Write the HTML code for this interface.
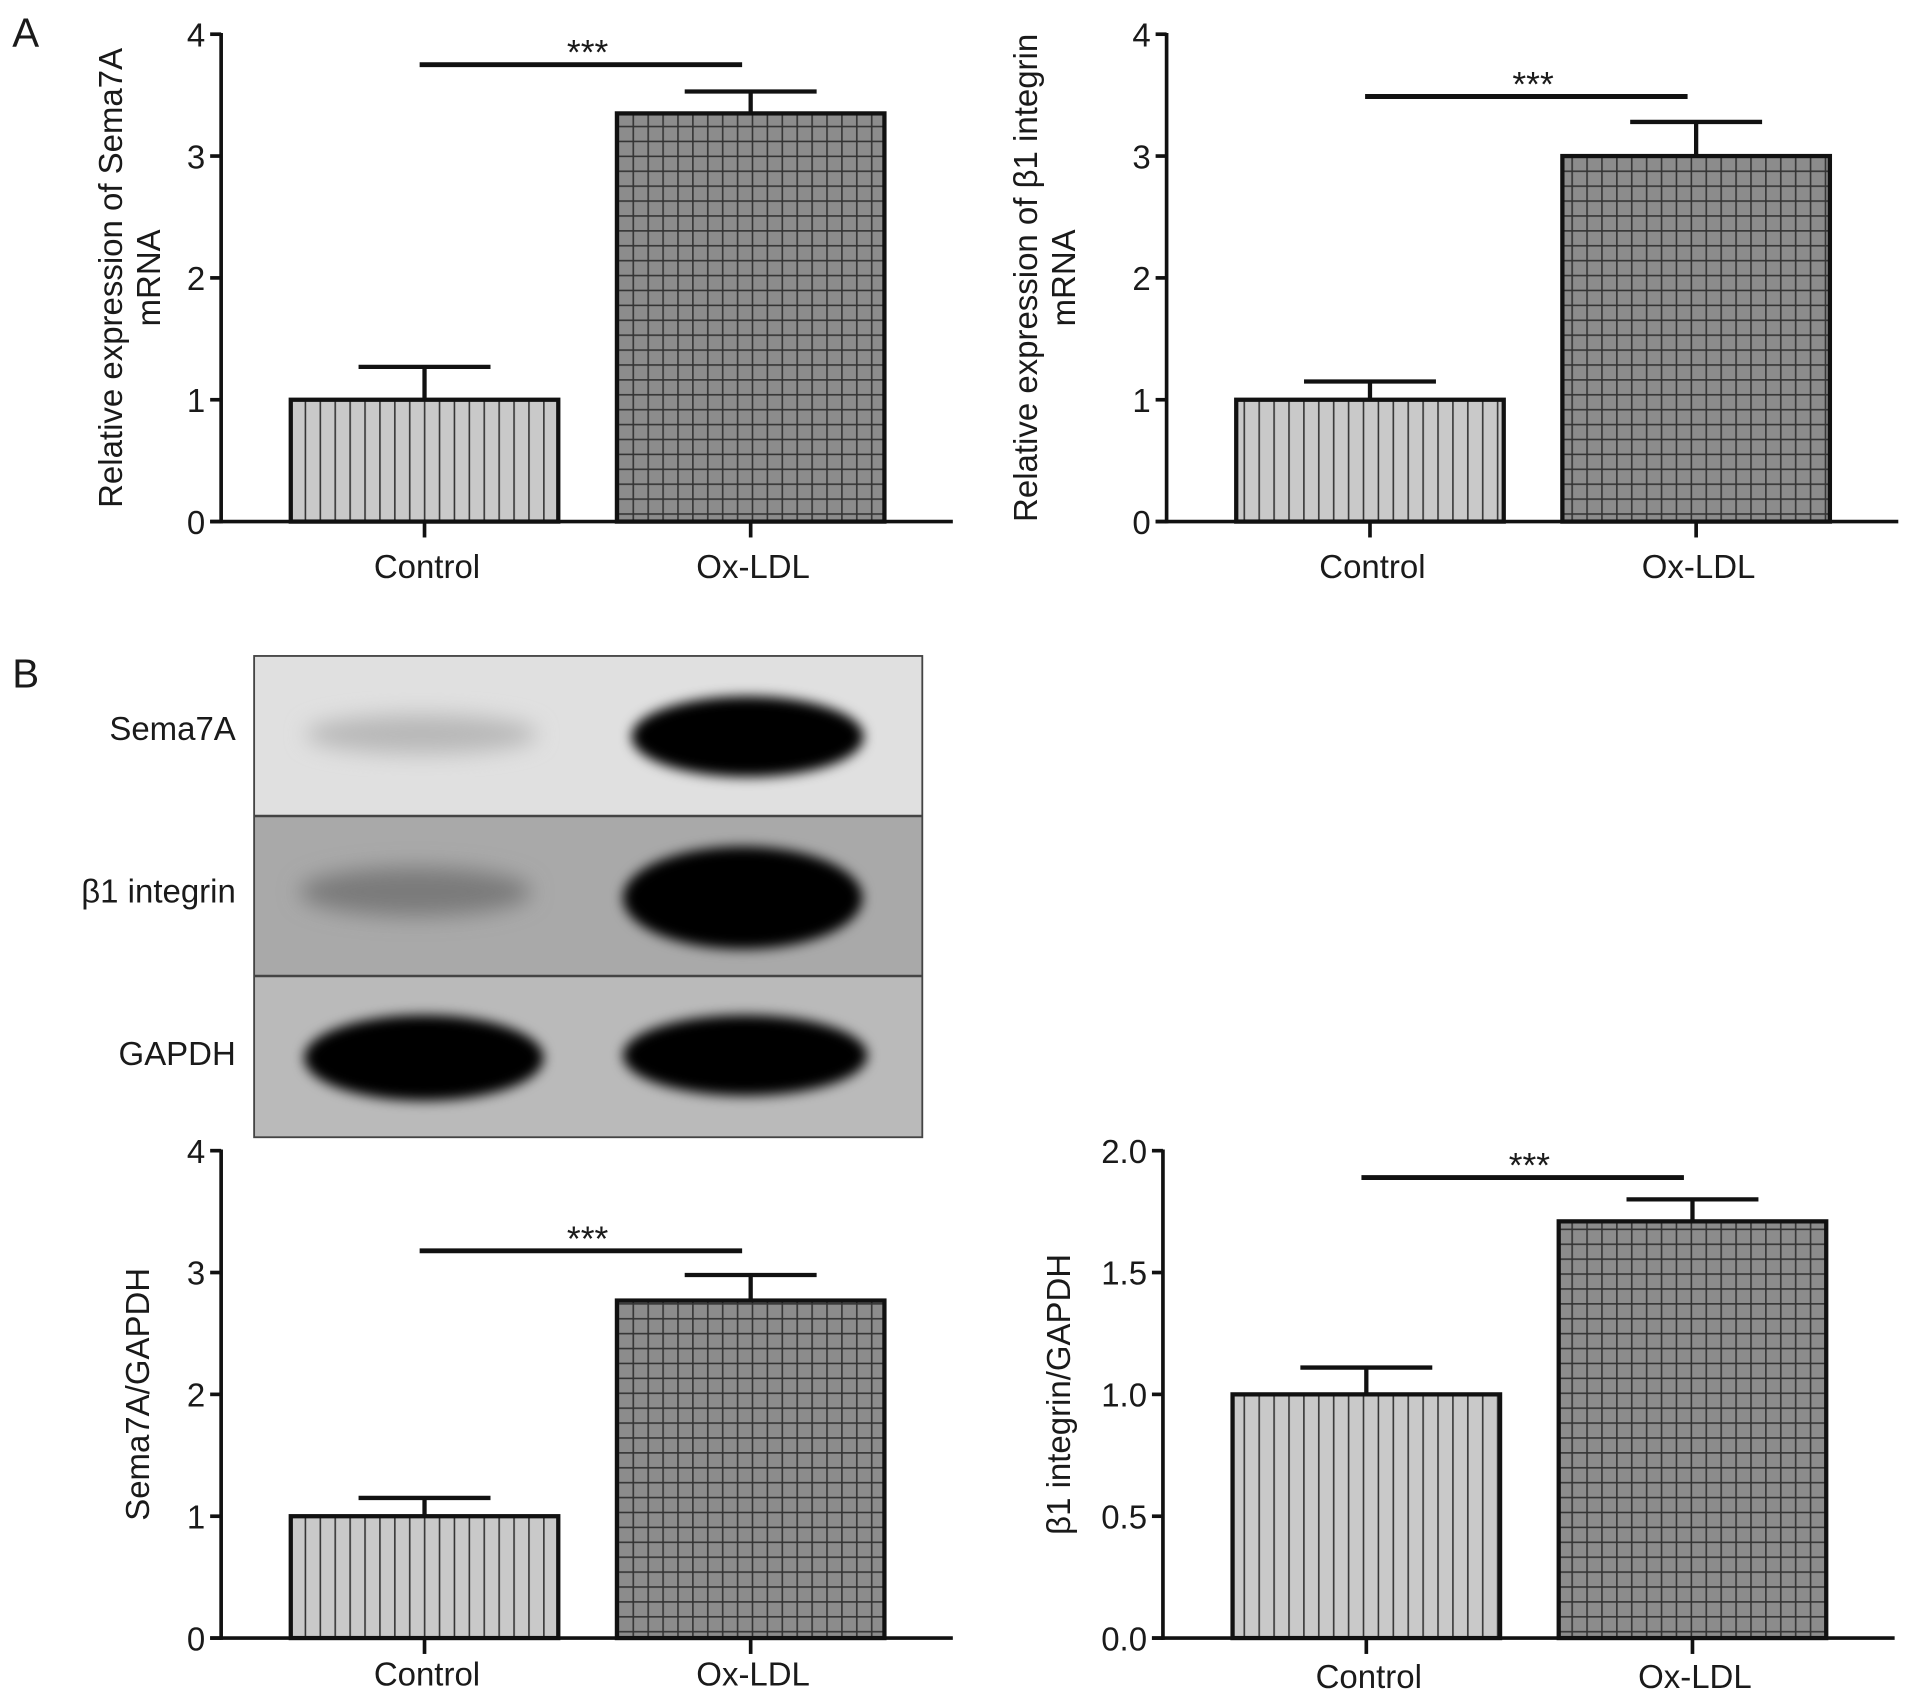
<!DOCTYPE html>
<html><head><meta charset="utf-8"><style>
html,body{margin:0;padding:0;background:#fff}
svg{display:block}
text{font-family:"Liberation Sans",Arial,sans-serif;fill:#1a1a1a}
</style></head><body>
<svg id="fig" width="1913" height="1700" viewBox="0 0 1566 1391.7" xmlns="http://www.w3.org/2000/svg">
<defs>
<pattern id="vstripe" width="12.2" height="20" patternUnits="userSpaceOnUse">
<rect width="12.2" height="20" fill="#c9c9c9"/><line x1="6" y1="0" x2="6" y2="20" stroke="#333" stroke-width="1.3"/>
</pattern>
<pattern id="grid" width="12.2" height="12.2" patternUnits="userSpaceOnUse">
<rect width="12.2" height="12.2" fill="#8c8c8c"/><line x1="6" y1="0" x2="6" y2="12.2" stroke="#333" stroke-width="1.3"/><line x1="0" y1="6" x2="12.2" y2="6" stroke="#333" stroke-width="1.3"/>
</pattern>
<filter id="blur" x="-30%" y="-60%" width="160%" height="220%"><feGaussianBlur stdDeviation="9"/></filter>
<filter id="blur2" x="-30%" y="-60%" width="160%" height="220%"><feGaussianBlur stdDeviation="5"/></filter>
</defs>
<text x="10" y="38" font-size="33">A</text>
<text x="10" y="563" font-size="33">B</text>
<g id="blot">
<rect x="208" y="537" width="547" height="131" fill="#e0e0e0"/>
<rect x="208" y="668" width="547" height="131" fill="#a9a9a9"/>
<rect x="208" y="799" width="547" height="132" fill="#bababa"/>
<ellipse cx="345" cy="601" rx="95" ry="16" fill="#b8b8b8" filter="url(#blur)"/>
<ellipse cx="612" cy="603" rx="95" ry="33" fill="#000" filter="url(#blur2)"/>
<ellipse cx="340" cy="730" rx="95" ry="20" fill="#7a7a7a" filter="url(#blur)"/>
<ellipse cx="608" cy="735" rx="98" ry="42" fill="#000" filter="url(#blur2)"/>
<ellipse cx="347" cy="866" rx="98" ry="35" fill="#000" filter="url(#blur2)"/>
<ellipse cx="610" cy="864" rx="100" ry="33" fill="#000" filter="url(#blur2)"/>
<rect x="208" y="537" width="547" height="394" fill="none" stroke="#444" stroke-width="1.5"/>
<line x1="208" y1="668" x2="755" y2="668" stroke="#444" stroke-width="2"/>
<line x1="208" y1="799" x2="755" y2="799" stroke="#444" stroke-width="2"/>
<text x="193" y="606" font-size="27" text-anchor="end">Sema7A</text>
<text x="193" y="739" font-size="27" text-anchor="end">β1 integrin</text>
<text x="193" y="872" font-size="27" text-anchor="end">GAPDH</text>
</g>
</svg>
<script>
const categories = ["Control", "Ox-LDL"];
const a1Values = [1.0, 3.35];
const a1Errors = [0.27, 0.18];
const a1Ticks = ["0", "1", "2", "3", "4"];
const a2Values = [1.0, 3.0];
const a2Errors = [0.15, 0.28];
const a2Ticks = ["0", "1", "2", "3", "4"];
const b1Values = [1.0, 2.77];
const b1Errors = [0.15, 0.21];
const b1Ticks = ["0", "1", "2", "3", "4"];
const b2Values = [1.0, 1.71];
const b2Errors = [0.11, 0.09];
const b2Ticks = ["0.0", "0.5", "1.0", "1.5", "2.0"];

const NS = "http://www.w3.org/2000/svg";
const svg = document.getElementById("fig");
function mk(tag, attrs, parent) {
  const e = document.createElementNS(NS, tag);
  for (const k in attrs) e.setAttribute(k, attrs[k]);
  (parent || svg).appendChild(e);
  return e;
}
function chart(cfg, values, errors, ticks, prefix) {
  const g = mk("g", {});
  
  
  const tickVals = ticks.map(Number);
  const yMax = tickVals[tickVals.length - 1];
  const y = v => cfg.y0 - (v / yMax) * (cfg.y0 - cfg.yTop);
  const bw = 219;
  const x = i => cfg.bx + i * 267;
  values.forEach((v, i) => {
    const r = mk("rect", {x: x(i), y: y(v), width: bw, height: cfg.y0 - y(v), fill: i === 0 ? "url(#vstripe)" : "url(#grid)", stroke: "#111", "stroke-width": 3.5}, g);
    
    
    const cx = x(i) + bw / 2, ey = y(v + errors[i]);
    const eb = mk("path", {d: `M${cx} ${y(v)}V${ey}M${cx - 54} ${ey}H${cx + 54}`, stroke: "#111", "stroke-width": 3.5, fill: "none"}, g);
    
    
    const xt = mk("line", {x1: cx, x2: cx, y1: cfg.y0, y2: cfg.y0 + 13, stroke: "#111", "stroke-width": 3}, g);
    
    
    const lab = mk("text", {x: cx + 2, y: cfg.y0 + cfg.labDy, "font-size": 27, "text-anchor": "middle"}, g);
    lab.textContent = categories[i];
    
    
  });
  const ya = mk("line", {x1: cfg.ax, x2: cfg.ax, y1: cfg.yTop - 1, y2: cfg.y0 + 1.5, stroke: "#111", "stroke-width": 3}, g);
  
  
  const xa = mk("line", {x1: cfg.ax - 9, x2: cfg.ax + 599, y1: cfg.y0, y2: cfg.y0, stroke: "#111", "stroke-width": 3}, g);
  
  
  ticks.forEach((t, i) => {
    const ty = y(tickVals[i]);
    const tl = mk("line", {x1: cfg.ax - 9, x2: cfg.ax, y1: ty, y2: ty, stroke: "#111", "stroke-width": 3}, g);
    
    
    const tt = mk("text", {x: cfg.ax - 13, y: ty + 10, "font-size": 27, "text-anchor": "end"}, g);
    tt.textContent = t;
    
    
  });
  const tg = mk("text", {transform: `translate(${cfg.tx},${(cfg.y0 + cfg.yTop) / 2}) rotate(-90)`, "font-size": 27, "text-anchor": "middle"}, g);
  
  
  cfg.title.forEach((line, k) => {
    const ts = mk("tspan", {x: 0, y: k * 31}, tg);
    ts.textContent = line;
  });
  const c0 = x(0) + bw / 2, c1 = x(1) + bw / 2;
  const sl = mk("line", {x1: c0 - 4, x2: c1 - 7, y1: cfg.sigY, y2: cfg.sigY, stroke: "#111", "stroke-width": 4}, g);
  
  
  const st = mk("text", {x: (c0 + c1) / 2, y: cfg.sigY, "font-size": 29, "text-anchor": "middle"}, g);
  st.textContent = "***";
  
  
}
chart({ax: 181, bx: 238, y0: 427, yTop: 28, sigY: 53, labDy: 46, tx: 100, title: ["Relative expression of Sema7A", "mRNA"]}, a1Values, a1Errors, a1Ticks, "a-sema7a-mrna");
chart({ax: 955, bx: 1012, y0: 427, yTop: 28, sigY: 79, labDy: 46, tx: 849, title: ["Relative expression of β1 integrin", "mRNA"]}, a2Values, a2Errors, a2Ticks, "a-b1-mrna");
chart({ax: 181, bx: 238, y0: 1341, yTop: 942, sigY: 1024, labDy: 39, tx: 122, title: ["Sema7A/GAPDH"]}, b1Values, b1Errors, b1Ticks, "b-sema7a-gapdh");
chart({ax: 952, bx: 1009, y0: 1341, yTop: 942, sigY: 964, labDy: 41, tx: 876, title: ["β1 integrin/GAPDH"]}, b2Values, b2Errors, b2Ticks, "b-b1-gapdh");
</script>
</body></html>
